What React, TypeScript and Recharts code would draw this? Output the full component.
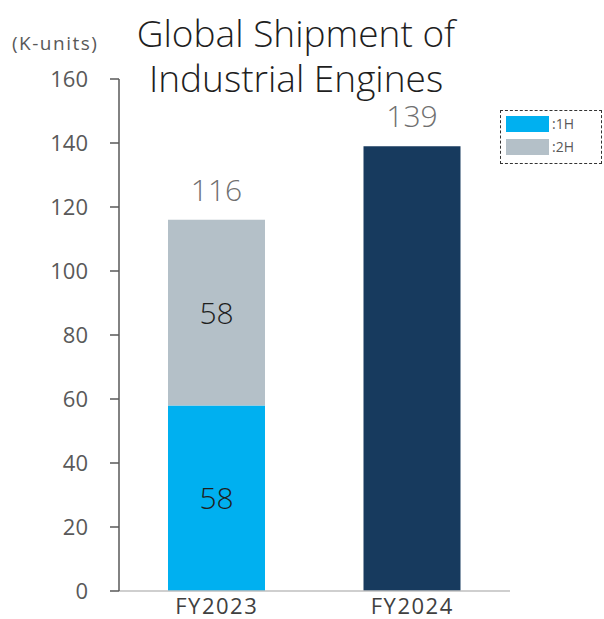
import React from 'react';
import { BarChart, Bar, XAxis, YAxis, Legend, LabelList } from 'recharts';

const categories = ['FY2023', 'FY2024'];
const firstHalf = [58, 0];
const secondHalf = [58, 0];
const fullYear = [0, 139];
const totals = [116, 139];
const yTicks = [0, 20, 40, 60, 80, 100, 120, 140, 160];
const titleLines = ['Global Shipment of', 'Industrial Engines'];

const data = categories.map((name, i) => ({
  name,
  h1: firstHalf[i],
  h2: secondHalf[i],
  full: fullYear[i],
  total: totals[i],
}));

const FONT = '"Open Sans", "Noto Sans", sans-serif';

const TopLabel = (props: any) => {
  const { x, y, width, height, value } = props;
  if (!height || height <= 0) return null;
  return (
    <text x={x + width / 2} y={y - 19} textAnchor="middle" fill="#707070" fontSize={30} fontWeight={300} fontFamily={FONT}>
      {value}
    </text>
  );
};

const CenterLabel = (props: any) => {
  const { x, y, width, height, value } = props;
  if (!value) return null;
  return (
    <text x={x + width / 2} y={y + height / 2} dy={11} textAnchor="middle" fill="#1E1E1E" fontSize={30} fontWeight={300} fontFamily={FONT}>
      {value}
    </text>
  );
};

const LegendBox = (props: any) => {
  const items = (props.payload || []).filter((p: any) => p.type !== 'none');
  return (
    <div style={{ width: 102, height: 54, border: '1.5px dashed #333', boxSizing: 'border-box', position: 'relative', fontFamily: FONT }}>
      {items.map((p: any, i: number) => (
        <div key={i} style={{ position: 'absolute', left: 5, top: 5 + i * 23, display: 'flex', alignItems: 'center' }}>
          <div style={{ width: 43, height: 16, background: p.color }} />
          <span style={{ fontSize: 14, color: '#595959', marginLeft: 3, lineHeight: '16px' }}>{p.value}</span>
        </div>
      ))}
    </div>
  );
};

export default function App() {
  return (
    <div style={{ position: 'absolute', left: 0, top: 0, width: 604, height: 619, background: '#fff', fontFamily: FONT }}>
      <div style={{ position: 'absolute', left: 12, top: 30, fontSize: 19, letterSpacing: 1.5, color: '#595959', lineHeight: '26px' }}>(K-units)</div>
      {titleLines.map((t, i) => (
        <div key={i} style={{ position: 'absolute', left: 96, width: 400, top: 15 + i * 45, textAlign: 'center', fontSize: 37, fontWeight: 300, lineHeight: '36px', color: '#1E1E1E', whiteSpace: 'nowrap' }}>
          {t}
        </div>
      ))}
      <BarChart
        width={604}
        height={619}
        data={data}
        margin={{ top: 79, right: 94, bottom: 0, left: 59 }}
        barSize={97}
        style={{ position: 'absolute', left: 0, top: 0 }}
      >
        <XAxis
          dataKey="name"
          height={28}
          tickLine={false}
          axisLine={{ stroke: '#BFBFBF', strokeWidth: 1.5 }}
          tick={{ fill: '#404040', fontSize: 22, letterSpacing: 1.5, fontFamily: FONT }}
          tickMargin={1}
        />
        <YAxis
          width={60}
          domain={[0, 160]}
          ticks={yTicks}
          interval={0}
          tickSize={9}
          tickMargin={22}
          axisLine={{ stroke: '#595959', strokeWidth: 1.5 }}
          tickLine={{ stroke: '#595959', strokeWidth: 1.5 }}
          tick={{ fill: '#595959', fontSize: 22, fontFamily: FONT }}
        />
        <Legend
          layout="vertical"
          align="center"
          verticalAlign="middle"
          content={<LegendBox />}
          wrapperStyle={{ left: 500, top: 110, width: 102, height: 54 }}
        />
        <Bar dataKey="h1" name=":1H" stackId="a" fill="#00B0F0" isAnimationActive={false}>
          <LabelList dataKey="h1" content={<CenterLabel />} />
        </Bar>
        <Bar dataKey="h2" name=":2H" stackId="a" fill="#B4C0C8" isAnimationActive={false}>
          <LabelList dataKey="h2" content={<CenterLabel />} />
          <LabelList dataKey="total" content={<TopLabel />} />
        </Bar>
        <Bar dataKey="full" name="FY" stackId="a" fill="#173A5E" legendType="none" isAnimationActive={false}>
          <LabelList dataKey="total" content={<TopLabel />} />
        </Bar>
      </BarChart>
    </div>
  );
}
